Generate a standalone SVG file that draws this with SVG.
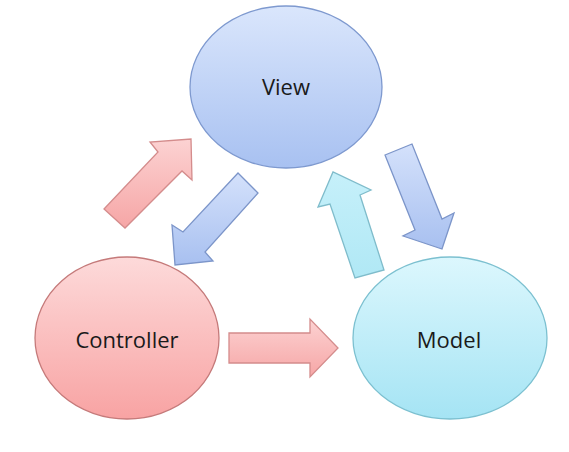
<svg xmlns="http://www.w3.org/2000/svg" width="569" height="452" viewBox="0 0 569 452">
<defs>
<linearGradient id="gView" x1="0" y1="0" x2="0" y2="1"><stop offset="0" stop-color="#dae6fc"/><stop offset="1" stop-color="#a8c1f1"/></linearGradient>
<linearGradient id="gCtrl" x1="0" y1="0" x2="0" y2="1"><stop offset="0" stop-color="#fddada"/><stop offset="1" stop-color="#f8a3a3"/></linearGradient>
<linearGradient id="gModel" x1="0" y1="0" x2="0" y2="1"><stop offset="0" stop-color="#dcf7fd"/><stop offset="1" stop-color="#a5e4f4"/></linearGradient>
<linearGradient id="aRed" x1="0" y1="0" x2="0" y2="1"><stop offset="0" stop-color="#fcd2d2"/><stop offset="1" stop-color="#f6a6a6"/></linearGradient>
<linearGradient id="aBlue" x1="0" y1="0" x2="0" y2="1"><stop offset="0" stop-color="#d4e1fb"/><stop offset="1" stop-color="#a8c0f0"/></linearGradient>
<linearGradient id="aCyan" x1="0" y1="0" x2="0" y2="1"><stop offset="0" stop-color="#c6f0fa"/><stop offset="1" stop-color="#b0e8f5"/></linearGradient>
</defs>
<style>
.lbl{font-family:"Open Sans","Liberation Sans",sans-serif;font-size:22px;fill:#1a1a1a;text-anchor:middle}
.ar{stroke-width:1.3;stroke-linejoin:miter}
</style>
<rect width="569" height="452" fill="#ffffff"/>
<g id="connectors">
<polygon id="c2v" class="ar" fill="url(#aRed)" stroke="#d48c8c" points="104,209 158,152 150,142 191,139 192,180 182,171 125,228"/>
<polygon id="v2c" class="ar" fill="url(#aBlue)" stroke="#7c95c9" points="238,173 183,232 172,225 175,265 213,261 205,252 258,193"/>
<polygon id="m2v" class="ar" fill="url(#aCyan)" stroke="#7fbccb" points="355,278 330,204 318,207 333,172 371,190 360,195 384,270"/>
<polygon id="v2m" class="ar" fill="url(#aBlue)" stroke="#7c95c9" points="385,155 415,230 403,236 442,249 454,213 442,219 412,144"/>
<polygon id="c2m" class="ar" fill="url(#aRed)" stroke="#d48c8c" points="229,333 310,333 310,319 338,348 310,377 310,363 229,363"/>
</g>
<g id="view">
<ellipse cx="286" cy="87" rx="96" ry="81" fill="url(#gView)" stroke="#7e99cf" stroke-width="1.3"/>
<text class="lbl" x="286" y="95">View</text>
</g>
<g id="controller">
<ellipse cx="127" cy="338" rx="92" ry="81" fill="url(#gCtrl)" stroke="#c57a7a" stroke-width="1.3"/>
<text class="lbl" x="127" y="348">Controller</text>
</g>
<g id="model">
<ellipse cx="450" cy="338" rx="97" ry="81" fill="url(#gModel)" stroke="#7cc0d0" stroke-width="1.3"/>
<text class="lbl" x="449" y="348">Model</text>
</g>
</svg>
